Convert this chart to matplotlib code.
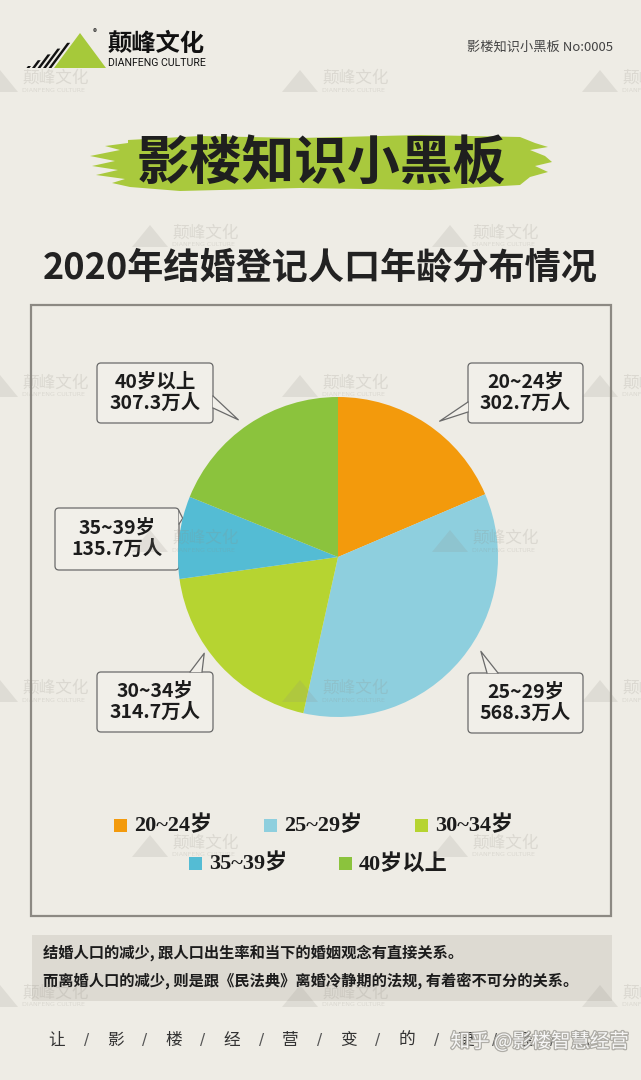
import matplotlib
matplotlib.use('Agg')
import matplotlib.pyplot as plt
from matplotlib.patches import Polygon, FancyBboxPatch, Rectangle
import matplotlib.patheffects as pe
import numpy as np

plt.rcParams['font.family'] = ['Noto Sans CJK SC', 'DejaVu Sans']

# ---- data ----
ages = ['20~24岁', '25~29岁', '30~34岁', '35~39岁', '40岁以上']
counts = [302.7, 568.3, 314.7, 135.7, 307.3]
colors = ['#F39A0C', '#8ECFDE', '#B6D431', '#54BCD4', '#8BC33D']
title = '2020年结婚登记人口年龄分布情况'
banner = '影楼知识小黑板'
notes = ['结婚人口的减少, 跟人口出生率和当下的婚姻观念有直接关系。',
         '而离婚人口的减少, 则是跟《民法典》离婚冷静期的法规, 有着密不可分的关系。']
slogan = ['让', '影', '楼', '经', '营', '变', '的', '更', '轻', '松']

W, H = 641, 1080
BG = '#EEECE5'
INK = '#1c1c1c'
CX, CY, R = 338, 557, 160

fig = plt.figure(figsize=(W / 100, H / 100), dpi=100, facecolor=BG)
ax = fig.add_axes([0, 0, 1, 1])
ax.set_xlim(0, W)
ax.set_ylim(H, 0)
ax.axis('off')
ax.set_facecolor(BG)

# ---- header / logo ----
ax.add_patch(Polygon([(54, 68), (106, 68), (80, 33)], closed=True, color='#A6C93A', lw=0))
for k in range(1, 6):
    x0 = 54 - 5.5 * k
    h = 31 - 5.8 * k
    ax.add_patch(Polygon([(x0, 68), (x0 + 3, 68), (x0 + 3 + h * 0.74, 68 - h), (x0 + h * 0.74, 68 - h)],
                         closed=True, color='#111111', lw=0))
ax.text(95, 33, '®', fontsize=6, color='#222', ha='center', va='center')
ax.text(108, 44, '颠峰文化', fontsize=17.5, fontweight='bold', color='#111', va='center', ha='left')
ax.text(108, 63, 'DIANFENG CULTURE', fontsize=7.6, color='#111', va='center', ha='left',
        family=['Roboto', 'DejaVu Sans'])
ax.text(613, 47, '影楼知识小黑板 No:0005', fontsize=9.5, color='#444', va='center', ha='right')

# ---- brush banner ----
brush = [(128, 140), (200, 136), (300, 138), (420, 135), (520, 137), (535, 143), (548, 147),
         (530, 150), (545, 156), (552, 162), (535, 166), (548, 172), (530, 177), (520, 185),
         (430, 190), (300, 188), (180, 191), (130, 187), (112, 183), (125, 179), (96, 175),
         (118, 170), (92, 166), (115, 161), (90, 156), (120, 150), (105, 146), (128, 143)]
ax.add_patch(Polygon(brush, closed=True, color='#A9C93D', lw=0))
ax.text(321, 163, banner, fontsize=38, fontweight='black', color='#1f1f1f',
        ha='center', va='center')

# ---- title ----
ax.text(320, 268, title, fontsize=26, fontweight='bold', color='#222222',
        ha='center', va='center')

# ---- frame ----
ax.add_patch(Rectangle((31, 305), 580, 611, fill=False, ec='#8C8983', lw=1.6))

# ---- pie ----
pax = fig.add_axes([(CX - R) / W, (H - CY - R) / H, 2 * R / W, 2 * R / H])
pax.pie(counts, colors=colors, startangle=90, counterclock=False,
        wedgeprops=dict(linewidth=0))
pax.set_xlim(-1, 1)
pax.set_ylim(-1, 1)
pax.set_aspect('equal')
pax.axis('off')

# ---- callouts ----
frac = np.array(counts) / np.sum(counts)
start = np.concatenate([[0], np.cumsum(frac)[:-1]]) * 360
span = frac * 360
# box left, top, width, height ; tip position within slice ; tip radius factor ; tail base
boxes = [(468, 363, 115, 60), (468, 673, 115, 60), (97, 672, 116, 60),
         (55, 508, 124, 62), (97, 363, 116, 60)]
tip_pos = [0.55, 0.45, 0.6, 0.73, 0.47]
tip_r = [1.06, 1.07, 1.03, 1.0, 1.06]
bases = [((468, 402), (468, 412)), ((487, 673), (498, 673)), ((190, 672), (202, 672)),
         ((179, 511), (179, 524)), ((213, 396), (213, 408))]
BOXFC = '#F1EFE9'
EDGE = '#6a6a6a'
for i in range(len(ages)):
    bx, by, bw, bh = boxes[i]
    ax.add_patch(FancyBboxPatch((bx, by), bw, bh, boxstyle='round,pad=0,rounding_size=4',
                                fc=BOXFC, ec=EDGE, lw=0.9, zorder=3))
    a = np.radians(start[i] + span[i] * tip_pos[i])
    tx = CX + R * tip_r[i] * np.sin(a)
    ty = CY - R * tip_r[i] * np.cos(a)
    b1, b2 = bases[i]
    ax.add_patch(Polygon([b1, (tx, ty), b2], closed=True, fc=BOXFC, ec='none', lw=0, zorder=4))
    ax.plot([b1[0], tx, b2[0]], [b1[1], ty, b2[1]], color=EDGE, lw=0.9, zorder=5)
    ax.text(bx + bw / 2, by + bh / 2, f'{ages[i]}\n{counts[i]:.1f}万人', fontsize=14,
            fontweight='bold', color=INK, ha='center', va='center', linespacing=1.15, zorder=6)

# ---- legend ----
leg_pos = [(114, 826), (264, 826), (415, 826), (189, 864), (339, 864)]
for i in range(len(ages)):
    lx, ly = leg_pos[i]
    ax.add_patch(Rectangle((lx, ly - 7), 13, 13, color=colors[i], lw=0))
    ax.text(lx + 20, ly, ages[i], fontsize=16, fontweight='bold', color=INK,
            ha='left', va='center', family=['Liberation Serif', 'Noto Sans CJK SC'])

# ---- note band ----
ax.add_patch(Rectangle((32, 935), 580, 66, color='#DDDAD2', lw=0))
ax.text(43, 953, notes[0], fontsize=11, fontweight='bold', color=INK, ha='left', va='center')
ax.text(43, 981, notes[1], fontsize=11, fontweight='bold', color=INK, ha='left', va='center')

# ---- slogan ----
xs = np.linspace(57, 582, len(slogan))
for j, ch in enumerate(slogan):
    ax.text(xs[j], 1040, ch, fontsize=12, fontweight='light', color='#333', ha='center', va='center')
    if j < len(slogan) - 1:
        ax.text((xs[j] + xs[j + 1]) / 2, 1040, '/', fontsize=11, color='#555',
                ha='center', va='center', family=['DejaVu Sans'])

# ---- watermark overlay ----
oax = fig.add_axes([0, 0, 1, 1])
oax.set_xlim(0, W)
oax.set_ylim(H, 0)
oax.axis('off')
oax.patch.set_alpha(0)


def watermark(x, y):
    oax.add_patch(Polygon([(x - 40, y + 12), (x - 4, y + 12), (x - 22, y - 10)], closed=True,
                          color='#8f8b82', alpha=0.16, lw=0))
    oax.text(x, y - 2, '颠峰文化', fontsize=12, color='#8f8b82', alpha=0.2, ha='left', va='center')
    oax.text(x, y + 10, 'DIANFENG CULTURE', fontsize=4.5, color='#8f8b82', alpha=0.2,
             ha='left', va='center', family=['DejaVu Sans'])


for yy in [80, 385, 690, 995]:
    for xx in [22, 322, 622]:
        watermark(xx, yy)
for yy in [235, 540, 845]:
    for xx in [172, 472]:
        watermark(xx, yy)

oax.text(540, 1042, '知乎 @影楼智慧经营', fontsize=14, color='white', alpha=0.9,
         ha='center', va='center',
         path_effects=[pe.withStroke(linewidth=1.8, foreground='#a8a6a0')])

fig.savefig('out.png', dpi=100, facecolor=BG)
